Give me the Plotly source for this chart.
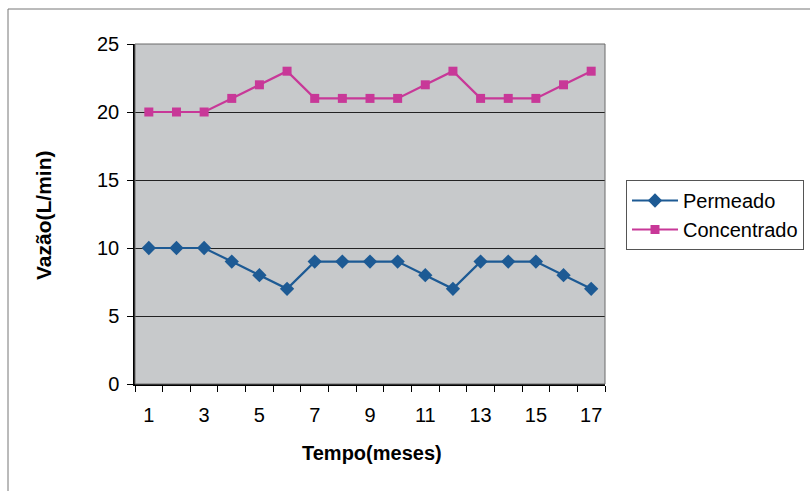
import plotly.graph_objects as go

meses = list(range(1, 18))
permeado = [10, 10, 10, 9, 8, 7, 9, 9, 9, 9, 8, 7, 9, 9, 9, 8, 7]
concentrado = [20, 20, 20, 21, 22, 23, 21, 21, 21, 21, 22, 23, 21, 21, 21, 22, 23]
x_ticks = [1, 3, 5, 7, 9, 11, 13, 15, 17]
y_ticks = [0, 5, 10, 15, 20, 25]

font_family = "Liberation Sans, Arial, sans-serif"

fig = go.Figure()
fig.add_trace(go.Scatter(
    x=meses, y=permeado, name="Permeado", mode="lines+markers",
    line=dict(color="#1d5a94", width=2.2),
    marker=dict(symbol="diamond", size=11, color="#1d5a94"),
))
fig.add_trace(go.Scatter(
    x=meses, y=concentrado, name="Concentrado", mode="lines+markers",
    line=dict(color="#c83898", width=2.2),
    marker=dict(symbol="square", size=9, color="#c83898"),
))

W, H = 810, 491
L, R, T, B = 135, 205, 44, 107
pw, ph = W - L - R, H - T - B

def px(x):
    return (x - L) / pw

def py(y):
    return (H - B - y) / ph

fig.update_layout(
    width=W, height=H,
    margin=dict(l=L, r=R, t=T, b=B, autoexpand=False),
    paper_bgcolor="white",
    plot_bgcolor="#c7c9cb",
    font=dict(family=font_family, size=20, color="black"),
    showlegend=True,
    legend=dict(
        x=px(626), y=py(180), xanchor="left", yanchor="top",
        bordercolor="#555555", borderwidth=1, bgcolor="white",
        font=dict(size=20, family=font_family),
        tracegroupgap=2, itemwidth=46,
    ),
    xaxis=dict(
        range=[0.5, 17.5], tickvals=x_ticks, ticktext=[str(v) for v in x_ticks],
        ticks="", showgrid=False, zeroline=False,
        showline=True, linecolor="black", linewidth=1.5,
        tickfont=dict(size=20), ticklabelstandoff=12,
        minor=dict(tickvals=[i + 0.5 for i in range(0, 18)], ticks="outside",
                   ticklen=6, tickcolor="black", showgrid=False),
    ),
    yaxis=dict(
        range=[0, 25], tickvals=y_ticks, ticks="outside", ticklen=6,
        tickcolor="black", showgrid=True, gridcolor="#222222", gridwidth=1,
        zeroline=False, showline=True, linecolor="black", linewidth=1.5,
        tickfont=dict(size=20), ticklabelstandoff=4,
    ),
    annotations=[
        dict(text="<b>Vazão(L/min)</b>", textangle=-90, x=px(43), y=py(215),
             xref="paper", yref="paper", xanchor="center", yanchor="middle",
             showarrow=False, font=dict(size=21, family=font_family)),
        dict(text="<b>Tempo(meses)</b>", x=px(372), y=py(453),
             xref="paper", yref="paper", xanchor="center", yanchor="middle",
             showarrow=False, font=dict(size=20, family=font_family)),
    ],
    shapes=[
        dict(type="rect", xref="paper", yref="paper", x0=0, y0=0, x1=1, y1=1,
             line=dict(color="#6a6a6a", width=1)),
        dict(type="rect", xref="paper", yref="paper", x0=px(8), y0=py(495),
             x1=px(815), y1=py(9), line=dict(color="#777777", width=1)),
    ],
)

fig.write_html("out.html")
